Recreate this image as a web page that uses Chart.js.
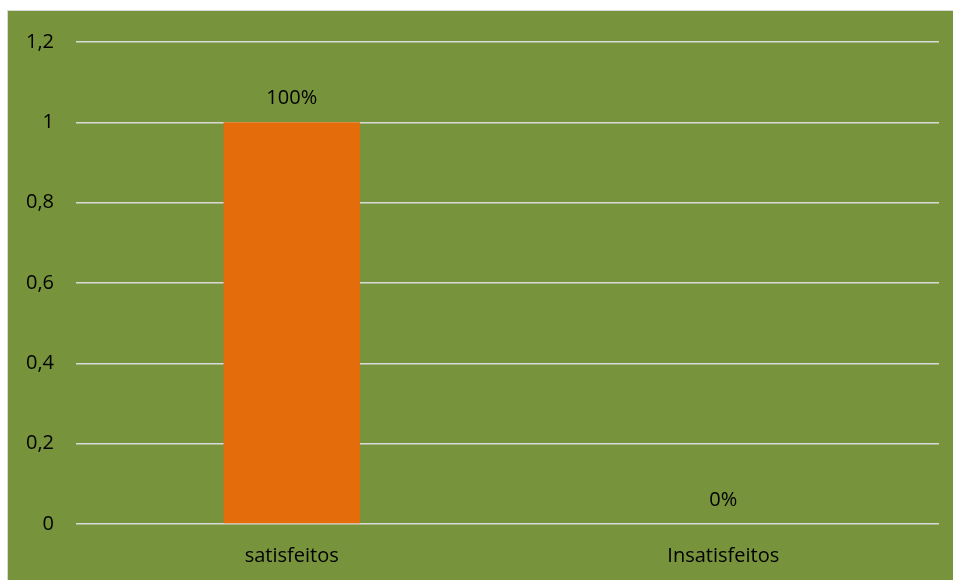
<!DOCTYPE html>
<html>
<head>
<meta charset="utf-8">
<script src="https://cdn.jsdelivr.net/npm/chart.js@4"></script>
<style>
  html, body { margin: 0; padding: 0; background: #ffffff; }
  body { width: 953px; height: 580px; position: relative; overflow: hidden; }
  #frame { position: absolute; left: 7px; top: 10px; width: 945px; height: 569px; overflow: hidden;
           background: #77933C; border-left: 1px solid #D9D9D9; border-top: 1px solid #D9D9D9; }
  #c { display: block; position: absolute; left: 0; top: -3px; }
</style>
</head>
<body>
<div id="frame"><canvas id="c" width="945" height="572"></canvas></div>
<script>
const categories = ["satisfeitos", "Insatisfeitos"];
const values = [1, 0];
const valueLabels = ["100%", "0%"];
const yTickLabels = { "0": "0", "0.2": "0,2", "0.4": "0,4", "0.6": "0,6", "0.8": "0,8", "1": "1", "1.2": "1,2" };

const FONT = "'Open Sans', 'Liberation Sans', sans-serif";
const FSIZE = 20;

const dataLabelPlugin = {
  id: 'dataLabels',
  afterDatasetsDraw(chart) {
    const ctx = chart.ctx;
    const meta = chart.getDatasetMeta(0);
    ctx.save();
    ctx.font = FSIZE + "px " + FONT;
    ctx.fillStyle = "#000000";
    ctx.textAlign = "center";
    ctx.textBaseline = "middle";
    meta.data.forEach((bar, i) => {
      ctx.fillText(valueLabels[i], bar.x, bar.y - 24);
    });
    ctx.restore();
  }
};

new Chart(document.getElementById('c'), {
  type: 'bar',
  data: {
    labels: categories,
    datasets: [{
      data: values,
      backgroundColor: '#E46C0A',
      borderWidth: 0,
      categoryPercentage: 1.0,
      barPercentage: 0.316
    }]
  },
  options: {
    responsive: false,
    animation: false,
    events: [],
    layout: { padding: { top: 26, right: 14, left: 0, bottom: 0 } },
    plugins: {
      legend: { display: false },
      tooltip: { enabled: false },
      title: { display: false }
    },
    scales: {
      x: {
        grid: { display: false, drawTicks: false },
        border: { display: false },
        ticks: { color: '#000000', font: { size: FSIZE, family: FONT }, padding: 20 },
        afterFit(scale) { scale.height = 56; }
      },
      y: {
        min: 0,
        max: 1.2,
        ticks: {
          stepSize: 0.2,
          color: '#000000',
          font: { size: FSIZE, family: FONT },
          padding: 22,
          callback: (v) => yTickLabels[String(Math.round(v * 10) / 10)]
        },
        grid: { color: '#D9D9D9', lineWidth: 1.5, drawTicks: false },
        border: { display: false },
        afterFit(scale) { scale.width = 68; }
      }
    }
  },
  plugins: [dataLabelPlugin]
});
</script>
</body>
</html>
